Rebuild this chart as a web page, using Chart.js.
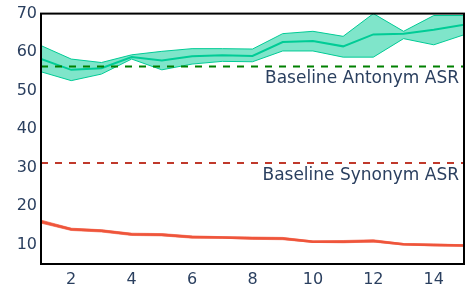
<!DOCTYPE html>
<html><head><meta charset="utf-8">
<script src="https://cdn.jsdelivr.net/npm/chart.js@4"></script>
<style>html,body{margin:0;padding:0;background:#fff}#c{display:block}</style>
</head><body>
<div style="width:465px;height:293px"><canvas id="c" width="465" height="293"></canvas></div>
<script>
const steps = [1,2,3,4,5,6,7,8,9,10,11,12,13,14,15];
const antonymMean  = [58.2,55.4,55.8,58.7,57.8,58.9,59.2,59.0,62.6,62.9,61.5,64.6,64.8,65.8,67.1];
const antonymUpper = [61.7,58.2,57.3,59.3,60.2,60.9,60.9,60.8,64.8,65.4,64.1,70.0,65.4,69.5,69.5];
const antonymLower = [54.9,52.6,54.3,58.2,55.4,56.9,57.6,57.5,60.3,60.3,58.7,58.7,63.5,61.9,64.5];
const synonymMean  = [16.0,14.0,13.6,12.7,12.6,12.0,11.9,11.7,11.6,10.8,10.8,11.0,10.1,9.95,9.8];
const synonymUpper = [16.4,14.3,13.9,13.0,12.9,12.3,12.1,12.0,11.9,11.0,11.1,11.3,10.3,10.2,10.0];
const synonymLower = [15.6,13.7,13.3,12.4,12.3,11.7,11.7,11.4,11.3,10.6,10.5,10.7,9.9,9.7,9.6];
const baselineAntonym = 56.3;
const baselineSynonym = 31.2;
const baselineLabels = ["Baseline Antonym ASR","Baseline Synonym ASR"];
const xTicks = [2,4,6,8,10,12,14];
const yTicks = [10,20,30,40,50,60,70];

const pts = arr => arr.map((v,i)=>({x:steps[i],y:v}));
const flat = v => [{x:steps[0],y:v},{x:steps[steps.length-1],y:v}];
const FONT = "'DejaVu Sans', sans-serif";
const TXT = '#2a3f5f';

const frame = {
  id:'frame',
  afterDatasetsDraw(chart){
    const {ctx, chartArea:a, scales} = chart;
    ctx.save();
    ctx.font = '17px ' + FONT;
    ctx.fillStyle = TXT;
    ctx.textAlign = 'right';
    ctx.textBaseline = 'top';
    const x = a.right - 5;
    ctx.fillText(baselineLabels[0], x, scales.y.getPixelForValue(baselineAntonym) + 4);
    ctx.fillText(baselineLabels[1], x, scales.y.getPixelForValue(baselineSynonym) + 4);
    ctx.strokeStyle = '#000';
    ctx.lineWidth = 2;
    ctx.strokeRect(a.left, a.top, a.right - a.left, a.bottom - a.top);
    ctx.restore();
  }
};

new Chart(document.getElementById('c'), {
  type:'line',
  data:{datasets:[
    {data:pts(antonymUpper), borderColor:'#00cc96', borderWidth:1, backgroundColor:'rgba(0,204,150,0.5)', fill:'+1', pointRadius:0, tension:0, order:5},
    {data:pts(antonymLower), borderColor:'#00cc96', borderWidth:1, fill:false, pointRadius:0, tension:0, order:5},
    {data:pts(antonymMean), borderColor:'#00cc96', borderWidth:2, fill:false, pointRadius:0, tension:0, order:4},
    {data:pts(synonymUpper), borderColor:'rgba(239,85,59,0.6)', borderWidth:1, backgroundColor:'rgba(239,85,59,0.5)', fill:'+1', pointRadius:0, tension:0, order:5},
    {data:pts(synonymLower), borderColor:'rgba(239,85,59,0.6)', borderWidth:1, fill:false, pointRadius:0, tension:0, order:5},
    {data:pts(synonymMean), borderColor:'#EF553B', borderWidth:2.5, fill:false, pointRadius:0, tension:0, order:4},
    {data:flat(baselineAntonym), borderColor:'#008000', borderWidth:2, borderDash:[7,7], fill:false, pointRadius:0, order:1},
    {data:flat(baselineSynonym), borderColor:'#c0392b', borderWidth:2, borderDash:[7,7], fill:false, pointRadius:0, order:1}
  ]},
  options:{
    responsive:false, animation:false,
    layout:{padding:{top:13,right:1,left:0,bottom:0}},
    plugins:{legend:{display:false}, tooltip:{enabled:false}},
    scales:{
      x:{type:'linear', min:1, max:15,
        grid:{display:false, drawTicks:false}, border:{display:false},
        afterBuildTicks(s){ s.ticks = xTicks.map(v=>({value:v})); },
        afterFit(s){ s.height = 29; },
        ticks:{font:{family:FONT,size:16}, color:TXT, padding:6, maxRotation:0, autoSkip:false}},
      y:{min:5, max:70,
        grid:{display:false, drawTicks:false}, border:{display:false},
        afterBuildTicks(s){ s.ticks = yTicks.map(v=>({value:v})); },
        afterFit(s){ s.width = 41; },
        ticks:{font:{family:FONT,size:16}, color:TXT, padding:4}}
    }
  },
  plugins:[frame]
});
</script>
</body></html>
